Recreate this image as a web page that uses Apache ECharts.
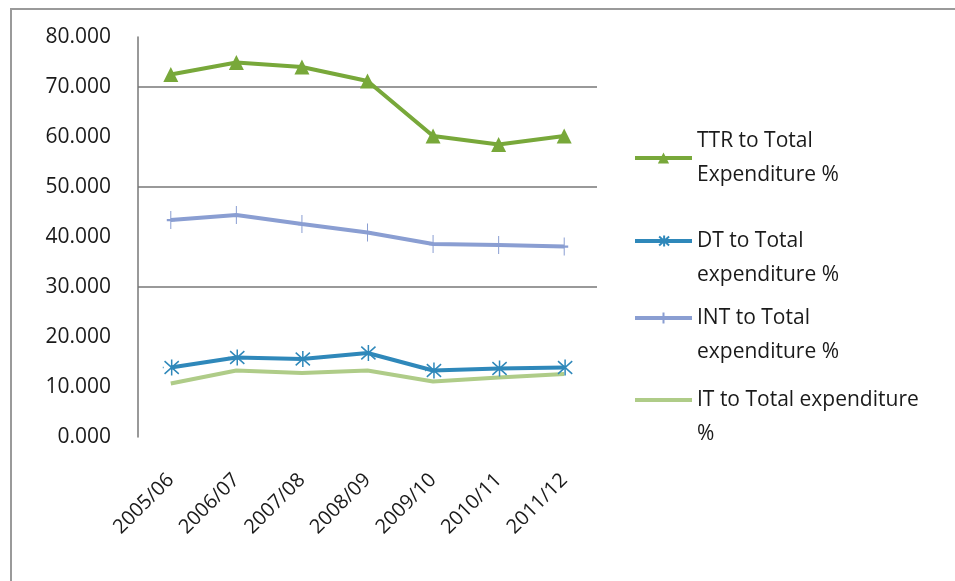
<!DOCTYPE html>
<html>
<head>
<meta charset="utf-8">
<script src="https://cdn.jsdelivr.net/npm/echarts@6/dist/echarts.min.js"></script>
<style>
  html, body { margin: 0; padding: 0; background: #fff; }
  #frame { position: absolute; left: 10px; top: 8px; width: 945px; height: 573px;
           border-top: 2px solid #9a9a9a; border-left: 2px solid #9a9a9a; }
  #main { position: absolute; left: 0; top: 0; width: 955px; height: 581px; }
</style>
</head>
<body>
<div id="frame"></div>
<div id="main"></div>
<script>
// data
var years = ['2005/06', '2006/07', '2007/08', '2008/09', '2009/10', '2010/11', '2011/12'];
var ttr = [72.5, 74.9, 74.0, 71.2, 60.2, 58.5, 60.2];
var dt  = [13.9, 15.9, 15.6, 16.8, 13.3, 13.7, 13.9];
var intr = [43.4, 44.4, 42.6, 40.9, 38.6, 38.4, 38.1];
var it  = [10.7, 13.3, 12.8, 13.3, 11.1, 11.9, 12.6];
var names = ['TTR to Total\nExpenditure %', 'DT to Total\nexpenditure %',
             'INT to Total\nexpenditure %', 'IT to Total expenditure\n%'];
var gridLevels = [30, 50, 70];

var colTTR = '#78a83a', colDT = '#2f88ba', colINT = '#8a9ed2', colIT = '#afcc88';
var font = '"Open Sans", Lato, sans-serif';

var myChart = echarts.init(document.getElementById('main'));

// one legend per item so the placement can follow the picture
// (an empty first line puts the icon level with the first text line)
var legendTops = [119, 185, 262, 344];
var legendLead = [false, true, true, true];
var legends = [];
for (var i = 0; i < names.length; i++) {
    legends.push({
        data: [names[i]],
        left: 628,
        top: legendTops[i],
        itemWidth: 57,
        itemHeight: 14,
        itemGap: 0,
        lineStyle: { width: 4 },
        itemStyle: i === 3 ? { opacity: 0 } : {},
        formatter: (function (lead) {
            return function (n) { return lead ? '{e| }\n' + n : n; };
        })(legendLead[i]),
        textStyle: {
            fontFamily: font, fontSize: 21, color: '#1a1a1a', lineHeight: 34,
            rich: { e: { fontSize: 21, lineHeight: 34 } }
        }
    });
}

var option = {
    animation: false,
    backgroundColor: 'transparent',
    legend: legends,
    grid: { left: 138, right: 358, top: 37, bottom: 144 },
    xAxis: {
        type: 'category',
        data: years,
        boundaryGap: true,
        axisLine: { show: false },
        axisTick: { show: false },
        axisLabel: {
            rotate: 45, margin: 40, fontFamily: font, fontSize: 20, color: '#1a1a1a'
        }
    },
    yAxis: {
        type: 'value',
        min: 0, max: 80, interval: 10,
        axisLine: { show: true, lineStyle: { color: '#777', width: 1.5 } },
        axisTick: { show: false },
        splitLine: { show: false },
        axisLabel: {
            margin: 27, fontFamily: font, fontSize: 21, color: '#1a1a1a',
            formatter: function (v) { return v.toFixed(3); }
        }
    },
    series: [
        {
            name: names[0], type: 'line', data: ttr,
            symbol: 'triangle', symbolSize: 15,
            itemStyle: { color: colTTR },
            lineStyle: { color: colTTR, width: 4 },
            markLine: {
                silent: true, symbol: 'none', label: { show: false },
                lineStyle: { color: '#777', width: 1.5, type: 'solid' },
                data: gridLevels.map(function (v) { return { yAxis: v }; })
            },
            z: 5
        },
        {
            name: names[1], type: 'line', data: dt,
            symbol: 'path://M0,-10L0,10M-8,-8L8,8M8,-8L-8,8M-10,0L-9,0', symbolSize: 16,
            itemStyle: { color: colDT, borderColor: colDT, borderWidth: 1.5 },
            lineStyle: { color: colDT, width: 4 },
            z: 4
        },
        {
            name: names[2], type: 'line', data: intr,
            symbol: 'path://M0,-10L0,10M-1,0L1,0', symbolSize: [8, 18],
            itemStyle: { color: colINT, borderColor: colINT, borderWidth: 1.5 },
            lineStyle: { color: colINT, width: 4 },
            z: 3
        },
        {
            name: names[3], type: 'line', data: it,
            symbol: 'none',
            itemStyle: { color: colIT },
            lineStyle: { color: colIT, width: 4 },
            z: 2
        }
    ]
};

myChart.setOption(option);
</script>
</body>
</html>
